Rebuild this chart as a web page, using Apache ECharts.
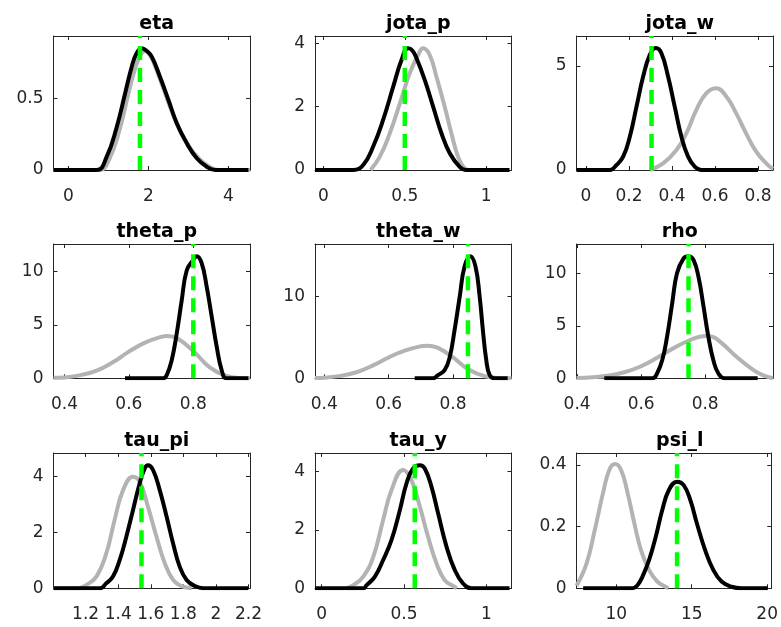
<!DOCTYPE html>
<html>
<head>
<meta charset="utf-8">
<script src="https://cdn.jsdelivr.net/npm/echarts@6/dist/echarts.min.js"></script>
<style>
  html, body { margin: 0; padding: 0; background: #fff; }
  #chart { width: 781px; height: 627px; }
</style>
</head>
<body>
<div id="chart"></div>
<script>
// panel names, in row order
const titles = ['eta', 'jota_p', 'jota_w', 'theta_p', 'theta_w', 'rho', 'tau_pi', 'tau_y', 'psi_l']

// axis ranges
const xMin = [-0.37, -0.051, -0.044, 0.366, 0.371, 0.398, 1.003, -0.041, 7.37]
const xMax = [4.54, 1.155, 0.87, 0.976, 0.982, 1.012, 2.209, 1.153, 20.27]
const yMax = [0.934, 4.23, 6.44, 12.59, 16.44, 12.79, 4.85, 4.64, 0.439]

// tick labels
const xTicks = [
  [0, 2, 4], [0, 0.5, 1], [0, 0.2, 0.4, 0.6, 0.8],
  [0.4, 0.6, 0.8], [0.4, 0.6, 0.8], [0.4, 0.6, 0.8],
  [1.2, 1.4, 1.6, 1.8, 2, 2.2], [0, 0.5, 1], [10, 15, 20]
]
const yTicks = [
  [0, 0.5], [0, 2, 4], [0, 5],
  [0, 5, 10], [0, 10], [0, 5, 10],
  [0, 2, 4], [0, 2, 4], [0, 0.2, 0.4]
]

// posterior mode (green dashed)
const modes = [1.79, 0.50, 0.305, 0.80, 0.8465, 0.748, 1.543, 0.565, 14.03]

// prior densities (grey)
const etaPrior = [[-0.37, 0], [0.78, 0], [1.03, 0.08], [1.28, 0.28], [1.49, 0.52], [1.66, 0.70], [1.80, 0.80], [1.92, 0.83], [2.04, 0.80], [2.16, 0.73], [2.36, 0.58], [2.57, 0.42], [2.78, 0.28], [3.03, 0.16], [3.28, 0.075], [3.53, 0.022], [3.75, 0], [4.54, 0]]
const jotaPPrior = [[0.29, 0], [0.347, 0.42], [0.408, 1.16], [0.47, 2.1], [0.53, 3.05], [0.582, 3.63], [0.612, 3.84], [0.653, 3.63], [0.694, 2.95], [0.745, 2.0], [0.786, 1.16], [0.827, 0.42], [0.868, 0.05], [0.90, 0]]
const jotaWPrior = [[0.297, 0], [0.359, 0.32], [0.421, 0.96], [0.467, 1.76], [0.513, 2.88], [0.560, 3.69], [0.606, 3.93], [0.653, 3.53], [0.699, 2.72], [0.745, 1.76], [0.792, 0.88], [0.838, 0.32], [0.87, 0.05]]
const thetaPPrior = [[0.366, 0.05], [0.40, 0.08], [0.45, 0.3], [0.50, 0.72], [0.55, 1.5], [0.60, 2.5], [0.65, 3.35], [0.70, 3.88], [0.72, 3.96], [0.75, 3.75], [0.80, 2.55], [0.85, 1.05], [0.90, 0.25], [0.95, 0.02], [0.976, 0]]
const thetaWPrior = [[0.371, 0.05], [0.40, 0.08], [0.45, 0.3], [0.50, 0.74], [0.55, 1.55], [0.60, 2.55], [0.65, 3.4], [0.70, 3.92], [0.72, 3.99], [0.75, 3.78], [0.80, 2.55], [0.85, 1.05], [0.90, 0.25], [0.95, 0.02], [0.982, 0]]
const rhoPrior = [[0.398, 0.04], [0.45, 0.1], [0.50, 0.26], [0.55, 0.6], [0.60, 1.15], [0.65, 1.95], [0.70, 2.85], [0.75, 3.6], [0.80, 4.03], [0.82, 3.98], [0.85, 3.4], [0.90, 2.0], [0.95, 0.8], [0.98, 0.3], [1.012, 0]]
const tauPiPrior = [[1.003, 0], [1.15, 0], [1.204, 0.12], [1.266, 0.42], [1.327, 1.25], [1.378, 2.45], [1.43, 3.52], [1.491, 4.0], [1.532, 3.82], [1.583, 2.92], [1.635, 1.85], [1.686, 0.9], [1.737, 0.3], [1.789, 0.08], [1.85, 0]]
const tauYPrior = [[0.15, 0], [0.192, 0.11], [0.252, 0.40], [0.313, 1.08], [0.373, 2.34], [0.424, 3.37], [0.4945, 4.06], [0.545, 3.71], [0.596, 2.8], [0.646, 1.77], [0.697, 0.86], [0.747, 0.28], [0.798, 0.08], [0.82, 0]]
const psiLPrior = [[7.37, 0.008], [8.04, 0.081], [8.58, 0.189], [9.12, 0.308], [9.56, 0.386], [9.93, 0.403], [10.33, 0.383], [10.76, 0.308], [11.2, 0.211], [11.64, 0.124], [12.18, 0.059], [12.72, 0.022], [13.27, 0.005], [13.45, 0]]

// posterior densities (black)
const etaPost = [[-0.37, 0], [0.71, 0], [0.96, 0.093], [1.21, 0.30], [1.42, 0.535], [1.585, 0.72], [1.70, 0.81], [1.835, 0.849], [1.96, 0.83], [2.085, 0.79], [2.29, 0.65], [2.50, 0.49], [2.71, 0.326], [2.96, 0.186], [3.21, 0.082], [3.46, 0.023], [3.67, 0], [4.50, 0]]
const jotaPPost = [[-0.051, 0], [0.184, 0], [0.245, 0.16], [0.306, 0.74], [0.367, 1.58], [0.429, 2.63], [0.48, 3.47], [0.52, 3.84], [0.545, 3.78], [0.572, 3.53], [0.623, 2.84], [0.674, 2.0], [0.725, 1.16], [0.776, 0.53], [0.837, 0.10], [0.878, 0], [1.143, 0]]
const jotaWPost = [[-0.044, 0], [0.111, 0], [0.142, 0.24], [0.173, 0.64], [0.204, 1.6], [0.235, 3.04], [0.266, 4.49], [0.297, 5.53], [0.325, 5.86], [0.351, 5.61], [0.382, 4.49], [0.413, 3.04], [0.444, 1.6], [0.475, 0.64], [0.506, 0.16], [0.537, 0], [0.80, 0]]
const thetaPPost = [[0.588, 0], [0.707, 0], [0.7175, 0.3], [0.733, 1.7], [0.7485, 4.2], [0.764, 7.3], [0.7795, 10.1], [0.80, 11.1], [0.8105, 11.45], [0.826, 10.8], [0.8415, 8.6], [0.857, 5.8], [0.8725, 3.0], [0.888, 0.78], [0.9035, 0], [0.971, 0]]
const thetaWPost = [[0.681, 0], [0.738, 0], [0.7535, 0.4], [0.774, 1.0], [0.790, 2.6], [0.805, 5.9], [0.821, 10], [0.836, 13.7], [0.854, 14.95], [0.870, 13.7], [0.883, 10], [0.893, 5.9], [0.9035, 2.24], [0.914, 0.4], [0.929, 0], [0.97, 0]]
const rhoPost = [[0.485, 0], [0.635, 0], [0.650, 0.48], [0.666, 1.74], [0.681, 3.96], [0.697, 7.14], [0.712, 10.0], [0.7325, 11.43], [0.748, 11.63], [0.7635, 11.27], [0.779, 9.68], [0.795, 6.82], [0.81, 3.96], [0.8255, 1.74], [0.841, 0.48], [0.8615, 0], [0.964, 0]]
const tauPiPost = [[1.003, 0], [1.286, 0], [1.327, 0.18], [1.368, 0.42], [1.409, 1.01], [1.45, 1.85], [1.491, 2.81], [1.532, 3.76], [1.563, 4.30], [1.583, 4.41], [1.614, 4.24], [1.655, 3.52], [1.697, 2.57], [1.737, 1.61], [1.778, 0.77], [1.82, 0.30], [1.871, 0.08], [1.922, 0], [2.199, 0]]
const tauYPost = [[-0.041, 0], [0.252, 0], [0.273, 0.11], [0.323, 0.40], [0.373, 0.97], [0.424, 1.66], [0.4745, 2.68], [0.515, 3.6], [0.555, 4.11], [0.596, 4.22], [0.626, 4.11], [0.667, 3.48], [0.707, 2.57], [0.758, 1.43], [0.808, 0.63], [0.858, 0.17], [0.909, 0], [1.141, 0]]
const psiLPost = [[7.81, 0], [11.09, 0], [11.42, 0.011], [11.74, 0.038], [12.18, 0.092], [12.62, 0.167], [13.05, 0.254], [13.49, 0.319], [14.03, 0.346], [14.47, 0.335], [14.91, 0.286], [15.34, 0.211], [15.89, 0.124], [16.44, 0.059], [16.98, 0.022], [17.64, 0.005], [18.29, 0], [20.04, 0]]

const priors = [etaPrior, jotaPPrior, jotaWPrior, thetaPPrior, thetaWPrior, rhoPrior, tauPiPrior, tauYPrior, psiLPrior]
const posts = [etaPost, jotaPPost, jotaWPost, thetaPPost, thetaWPost, rhoPost, tauPiPost, tauYPost, psiLPost]

const colLeft = [53.5, 315, 576.5]
const rowTop = [36, 244, 453]
const boxW = 196.5
const boxH = [134, 134.3, 135.3]
const axisColor = '#262626'
const font = 'DejaVu Sans'

function axisBase(show) {
  return {
    axisLine: { show: true, onZero: false, lineStyle: { color: axisColor, width: 1 } },
    splitLine: { show: false },
    axisLabel: { show: show, color: axisColor, fontSize: 17, fontFamily: font },
    axisTick: { show: true, inside: true, length: 4, lineStyle: { color: axisColor, width: 1 } }
  }
}

const grid = [], xAxis = [], yAxis = [], series = [], title = []
for (let i = 0; i < 9; i++) {
  const r = Math.floor(i / 3), c = i % 3
  grid.push({ left: colLeft[c], top: rowTop[r], width: boxW, height: boxH[r] })
  title.push({
    text: titles[i],
    left: colLeft[c] + boxW / 2,
    top: rowTop[r] - 26,
    textAlign: 'center',
    textStyle: { fontFamily: font, fontWeight: 'bold', fontSize: 19, color: '#000' }
  })
  // bottom + top x axes, left + right y axes, to close the box
  ;['bottom', 'top'].forEach(function (pos) {
    const a = axisBase(pos == 'bottom')
    a.gridIndex = i
    a.type = 'value'
    a.position = pos
    a.min = xMin[i]
    a.max = xMax[i]
    a.axisTick.customValues = xTicks[i]
    a.axisLabel.customValues = xTicks[i]
    a.axisLabel.margin = 18
    xAxis.push(a)
  })
  ;['left', 'right'].forEach(function (pos) {
    const a = axisBase(pos == 'left')
    a.gridIndex = i
    a.type = 'value'
    a.position = pos
    a.min = 0
    a.max = yMax[i]
    a.axisTick.customValues = yTicks[i]
    a.axisLabel.customValues = yTicks[i]
    a.axisLabel.margin = 10
    yAxis.push(a)
  })
  series.push({
    type: 'line', xAxisIndex: 2 * i, yAxisIndex: 2 * i,
    data: priors[i], showSymbol: false, smooth: 0.45, z: 2,
    lineStyle: { color: '#b3b3b3', width: 4 }
  })
  series.push({
    type: 'line', xAxisIndex: 2 * i, yAxisIndex: 2 * i,
    data: posts[i], showSymbol: false, smooth: 0.45, z: 3,
    lineStyle: { color: '#000', width: 4 }
  })
  series.push({
    type: 'line', xAxisIndex: 2 * i, yAxisIndex: 2 * i,
    data: [[modes[i], 0], [modes[i], yMax[i]]], showSymbol: false, z: 4,
    lineStyle: { color: '#00ff00', width: 4.5, type: [14, 8] }
  })
}

const myChart = echarts.init(document.getElementById('chart'), null, { renderer: 'canvas' })
myChart.setOption({
  animation: false,
  backgroundColor: '#fff',
  title: title,
  grid: grid,
  xAxis: xAxis,
  yAxis: yAxis,
  series: series
})
</script>
</body>
</html>
